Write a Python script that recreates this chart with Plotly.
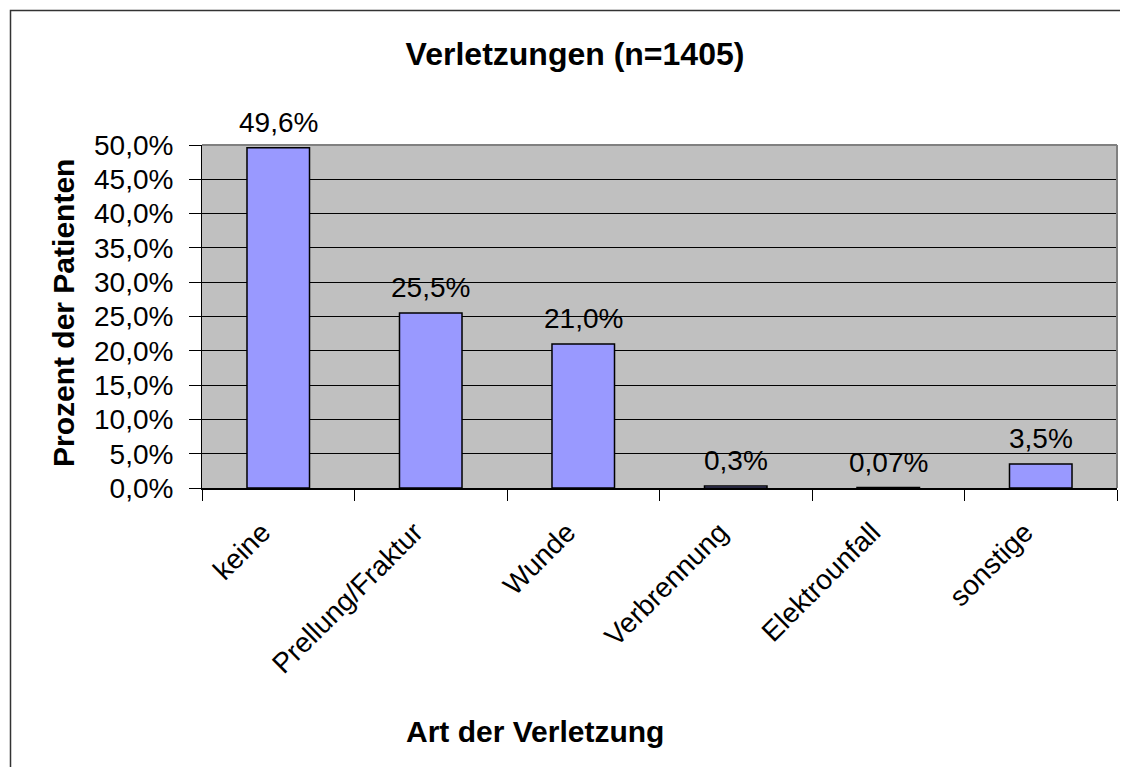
import plotly.graph_objects as go

# --- data ---
categories = ["keine", "Prellung/Fraktur", "Wunde", "Verbrennung", "Elektrounfall", "sonstige"]
percent = [49.6, 25.5, 21.0, 0.3, 0.07, 3.5]
bar_labels = ["49,6%", "25,5%", "21,0%", "0,3%", "0,07%", "3,5%"]
y_ticks = [0, 5, 10, 15, 20, 25, 30, 35, 40, 45, 50]
y_ticklabels = ["0,0%", "5,0%", "10,0%", "15,0%", "20,0%", "25,0%", "30,0%",
                "35,0%", "40,0%", "45,0%", "50,0%"]

# page body has an 8px margin, so the figure is drawn 8px smaller
W, H = 1120, 759
L, R, T, B = 194, 11, 137, 279
pw, ph = W - L - R, H - T - B
FONT = "Liberation Sans, Arial, sans-serif"

fig = go.Figure(
    go.Bar(
        x=categories,
        y=percent,
        marker=dict(color="#9999FF", line=dict(color="black", width=1.5)),
        width=0.41,
        cliponaxis=False,
    )
)

# value labels above bars
for cat, val, lab in zip(categories, percent, bar_labels):
    fig.add_annotation(x=cat, y=val, text=lab, showarrow=False, yanchor="bottom",
                       yshift=8, font=dict(size=28, color="black"))

fig.update_layout(
    width=W, height=H,
    margin=dict(l=L, r=R, t=T, b=B),
    paper_bgcolor="white",
    plot_bgcolor="#C0C0C0",
    font=dict(family=FONT, color="black"),
    showlegend=False,
    title=dict(text="<b>Verletzungen (n=1405)</b>", x=567 / W, xanchor="center",
               y=1 - 46 / H, yanchor="middle", font=dict(size=32)),
)
fig.update_yaxes(
    range=[0, 50],
    tickvals=y_ticks, ticktext=y_ticklabels,
    tickfont=dict(size=28),
    showgrid=True, gridcolor="black", gridwidth=1,
    showline=True, linecolor="black", linewidth=1,
    ticks="outside", ticklen=12, tickcolor="black",
    ticklabelstandoff=10,
    zeroline=False,
)
fig.update_xaxes(
    tickangle=-45,
    tickfont=dict(size=28),
    showline=True, linecolor="black", linewidth=1.5,
    ticks="outside", tickson="boundaries", ticklen=11, tickcolor="black",
    ticklabelstandoff=15, ticklabelshift=-16,
)

# axis titles
fig.add_annotation(text="<b>Prozent der Patienten</b>", xref="paper", yref="paper",
                   x=(55 - L) / pw, y=(480 - 305) / ph, textangle=-90,
                   xanchor="center", yanchor="middle",
                   showarrow=False, font=dict(size=30))
fig.add_annotation(text="<b>Art der Verletzung</b>", xref="paper", yref="paper",
                   x=(527 - L) / pw, y=(480 - 723) / ph,
                   xanchor="center", yanchor="middle",
                   showarrow=False, font=dict(size=30))

# gray top/right edges of plot area
fig.add_shape(type="line", xref="paper", yref="paper", x0=0, x1=1, y0=1, y1=1,
              line=dict(color="#808080", width=2))
fig.add_shape(type="line", xref="paper", yref="paper", x0=1, x1=1, y0=0, y1=1,
              line=dict(color="#808080", width=2))

# outer chart border
fig.add_shape(type="rect", xref="paper", yref="paper",
              x0=(2.5 - L) / pw, x1=(1150 - L) / pw,
              y0=(480 - 790) / ph, y1=(480 - 2.5) / ph,
              line=dict(color="#333333", width=1.5), layer="below")

fig.write_html("out.html")
